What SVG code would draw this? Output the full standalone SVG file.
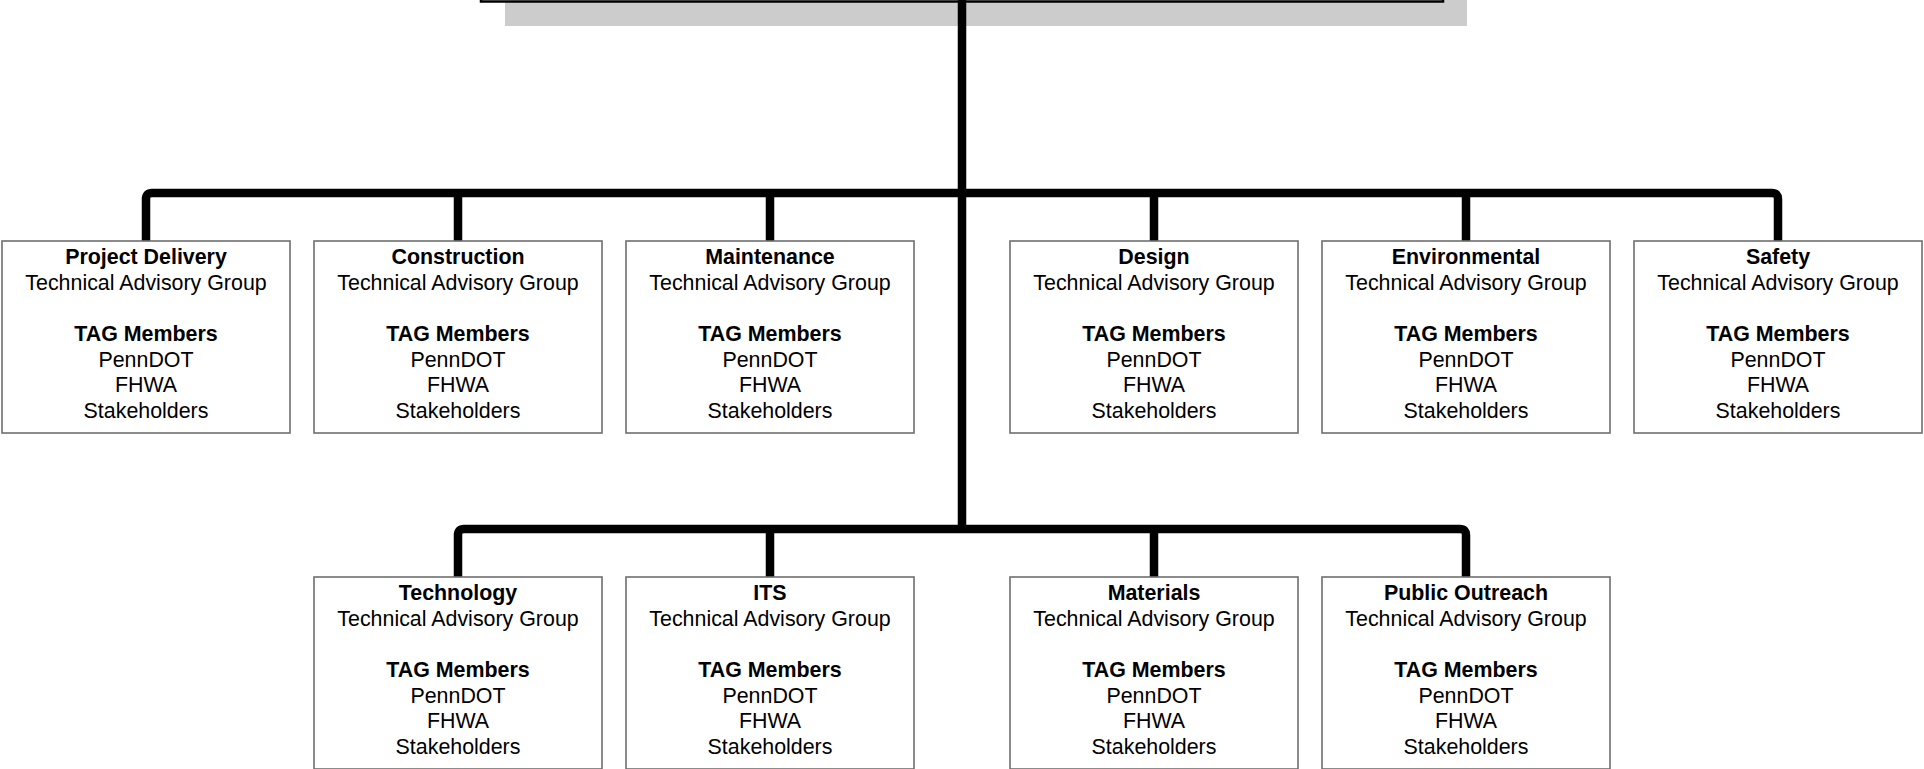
<svg xmlns="http://www.w3.org/2000/svg" width="1924" height="769" viewBox="0 0 1924 769">
<style>
.box{fill:#fff;stroke:#6f6f6f;stroke-width:1.6}
.conn{fill:none;stroke:#000;stroke-width:8.5;stroke-linejoin:round}
text{font-family:"Liberation Sans",Arial,sans-serif;font-size:21.4px;fill:#000;text-anchor:middle}
.b{font-weight:bold}
</style>
<rect x="0" y="0" width="1924" height="769" fill="#fff"/>
<g id="top">
<rect x="505" y="-50" width="962" height="76" fill="#cccccc"/>
<rect x="481" y="-80" width="962" height="81.5" fill="#fff" stroke="#000" stroke-width="2.5"/>
</g>
<g id="connectors">
<path class="conn" d="M962 0 V529"/>
<path class="conn" d="M146 241 V199 Q146 193 152 193 H1772 Q1778 193 1778 199 V241"/>
<path class="conn" d="M458 193 V241 M770 193 V241 M1154 193 V241 M1466 193 V241"/>
<path class="conn" d="M458 577 V535 Q458 529 464 529 H1460 Q1466 529 1466 535 V577"/>
<path class="conn" d="M770 529 V577 M1154 529 V577"/>
</g>
<defs>
<g id="body">
<text x="0" y="25.7">Technical Advisory Group</text>
<text x="0" y="77" class="b">TAG Members</text>
<text x="0" y="102.7">PennDOT</text>
<text x="0" y="128.3">FHWA</text>
<text x="0" y="154">Stakeholders</text>
</g>
</defs>
<g id="n-project-delivery"><rect class="box" x="2" y="241" width="288" height="192"/><text x="146" y="264" class="b">Project Delivery</text><use href="#body" x="146" y="264"/></g>
<g id="n-construction"><rect class="box" x="314" y="241" width="288" height="192"/><text x="458" y="264" class="b">Construction</text><use href="#body" x="458" y="264"/></g>
<g id="n-maintenance"><rect class="box" x="626" y="241" width="288" height="192"/><text x="770" y="264" class="b">Maintenance</text><use href="#body" x="770" y="264"/></g>
<g id="n-design"><rect class="box" x="1010" y="241" width="288" height="192"/><text x="1154" y="264" class="b">Design</text><use href="#body" x="1154" y="264"/></g>
<g id="n-environmental"><rect class="box" x="1322" y="241" width="288" height="192"/><text x="1466" y="264" class="b">Environmental</text><use href="#body" x="1466" y="264"/></g>
<g id="n-safety"><rect class="box" x="1634" y="241" width="288" height="192"/><text x="1778" y="264" class="b">Safety</text><use href="#body" x="1778" y="264"/></g>
<g id="n-technology"><rect class="box" x="314" y="577" width="288" height="192"/><text x="458" y="600" class="b">Technology</text><use href="#body" x="458" y="600"/></g>
<g id="n-its"><rect class="box" x="626" y="577" width="288" height="192"/><text x="770" y="600" class="b">ITS</text><use href="#body" x="770" y="600"/></g>
<g id="n-materials"><rect class="box" x="1010" y="577" width="288" height="192"/><text x="1154" y="600" class="b">Materials</text><use href="#body" x="1154" y="600"/></g>
<g id="n-public-outreach"><rect class="box" x="1322" y="577" width="288" height="192"/><text x="1466" y="600" class="b">Public Outreach</text><use href="#body" x="1466" y="600"/></g>
</svg>
